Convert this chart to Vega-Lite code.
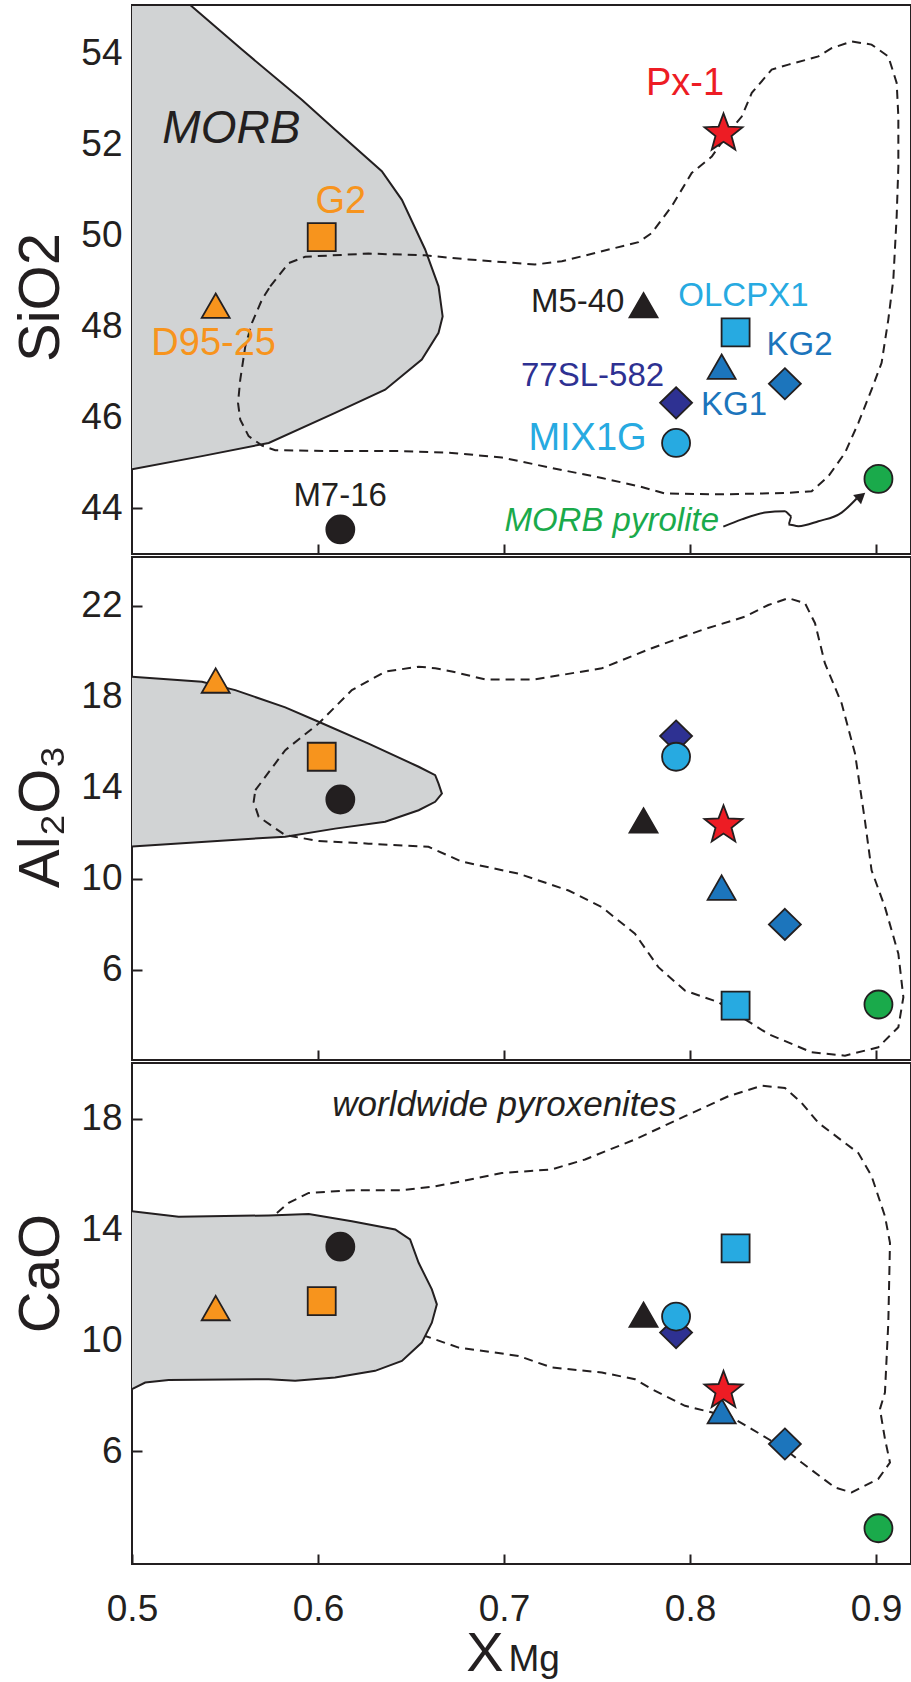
{
  "$schema": "https://vega.github.io/schema/vega-lite/v6.json",
  "background": "white",
  "padding": {"left": 11, "top": 4, "right": 0, "bottom": 0},
  "spacing": 0,
  "config": {
    "view": {"stroke": "#231f20", "strokeWidth": 2},
    "font": "Liberation Sans",
    "axis": {
      "labelFont": "Liberation Sans", "labelFontSize": 37, "labelColor": "#231f20",
      "labelFlush": false, "labelOverlap": false,
      "tickColor": "#231f20", "tickWidth": 2, "domain": false, "grid": false,
      "titleFont": "Liberation Sans",
      "titleFontSize": 58, "titleFontWeight": "normal", "titleColor": "#231f20",
      "titleBaseline": "alphabetic", "titlePadding": 22
    }
  },
  "datasets": {
    "points": [
      {"panel": "SiO2", "sample": "77SL-582", "x": 0.7925, "y": 46.32},
      {"panel": "SiO2", "sample": "KG2", "x": 0.851, "y": 46.74},
      {"panel": "SiO2", "sample": "KG1", "x": 0.817, "y": 47.11},
      {"panel": "SiO2", "sample": "D95-25", "x": 0.545, "y": 48.45},
      {"panel": "SiO2", "sample": "M5-40", "x": 0.775, "y": 48.46},
      {"panel": "SiO2", "sample": "G2", "x": 0.602, "y": 49.96},
      {"panel": "SiO2", "sample": "OLCPX1", "x": 0.8245, "y": 47.87},
      {"panel": "SiO2", "sample": "M7-16", "x": 0.612, "y": 43.54},
      {"panel": "SiO2", "sample": "MIX1G", "x": 0.7925, "y": 45.44},
      {"panel": "SiO2", "sample": "MORB pyrolite", "x": 0.9013, "y": 44.65},
      {"panel": "SiO2", "sample": "Px-1", "x": 0.818, "y": 52.24},
      {"panel": "Al2O3", "sample": "77SL-582", "x": 0.7925, "y": 16.28},
      {"panel": "Al2O3", "sample": "KG2", "x": 0.851, "y": 8.0},
      {"panel": "Al2O3", "sample": "KG1", "x": 0.817, "y": 9.61},
      {"panel": "Al2O3", "sample": "D95-25", "x": 0.545, "y": 18.71},
      {"panel": "Al2O3", "sample": "M5-40", "x": 0.775, "y": 12.56},
      {"panel": "Al2O3", "sample": "G2", "x": 0.602, "y": 15.37},
      {"panel": "Al2O3", "sample": "OLCPX1", "x": 0.8245, "y": 4.43},
      {"panel": "Al2O3", "sample": "M7-16", "x": 0.612, "y": 13.49},
      {"panel": "Al2O3", "sample": "MIX1G", "x": 0.7925, "y": 15.37},
      {"panel": "Al2O3", "sample": "MORB pyrolite", "x": 0.9013, "y": 4.48},
      {"panel": "Al2O3", "sample": "Px-1", "x": 0.818, "y": 12.36},
      {"panel": "CaO", "sample": "77SL-582", "x": 0.7925, "y": 10.29},
      {"panel": "CaO", "sample": "KG2", "x": 0.851, "y": 6.27},
      {"panel": "CaO", "sample": "KG1", "x": 0.817, "y": 7.45},
      {"panel": "CaO", "sample": "D95-25", "x": 0.545, "y": 11.17},
      {"panel": "CaO", "sample": "M5-40", "x": 0.775, "y": 10.93},
      {"panel": "CaO", "sample": "G2", "x": 0.602, "y": 11.43},
      {"panel": "CaO", "sample": "OLCPX1", "x": 0.8245, "y": 13.33},
      {"panel": "CaO", "sample": "M7-16", "x": 0.612, "y": 13.39},
      {"panel": "CaO", "sample": "MIX1G", "x": 0.7925, "y": 10.87},
      {"panel": "CaO", "sample": "MORB pyrolite", "x": 0.9013, "y": 3.23},
      {"panel": "CaO", "sample": "Px-1", "x": 0.818, "y": 8.19}
    ],
    "labels": [
      {"panel": "SiO2", "sample": "Px-1", "x": 0.7973, "y": 53.09},
      {"panel": "SiO2", "sample": "G2", "x": 0.6123, "y": 50.49},
      {"panel": "SiO2", "sample": "D95-25", "x": 0.5439, "y": 47.38},
      {"panel": "SiO2", "sample": "MIX1G", "x": 0.7449, "y": 45.28},
      {"panel": "SiO2", "sample": "M7-16", "x": 0.6119, "y": 44.05},
      {"panel": "SiO2", "sample": "M5-40", "x": 0.7396, "y": 48.32},
      {"panel": "SiO2", "sample": "OLCPX1", "x": 0.8287, "y": 48.44},
      {"panel": "SiO2", "sample": "KG2", "x": 0.8589, "y": 47.38},
      {"panel": "SiO2", "sample": "77SL-582", "x": 0.7476, "y": 46.70},
      {"panel": "SiO2", "sample": "KG1", "x": 0.8237, "y": 46.06},
      {"panel": "SiO2", "sample": "MORB pyrolite", "x": 0.7579, "y": 43.50},
      {"panel": "SiO2", "sample": "MORB", "x": 0.5534, "y": 52.03},
      {"panel": "CaO", "sample": "worldwide pyroxenites", "x": 0.7002, "y": 18.10},
      {"panel": "CaO", "sample": "X", "x": 0.6898, "y": -1.93},
      {"panel": "CaO", "sample": "Mg", "x": 0.7024, "y": -1.93}
    ],
    "outlines": [
      {"panel": "SiO2", "kind": "MORB", "i": 0, "x": 0.5, "y": 55.06},
      {"panel": "SiO2", "kind": "MORB", "i": 1, "x": 0.5313, "y": 55.06},
      {"panel": "SiO2", "kind": "MORB", "i": 2, "x": 0.5591, "y": 54.08},
      {"panel": "SiO2", "kind": "MORB", "i": 3, "x": 0.5913, "y": 52.98},
      {"panel": "SiO2", "kind": "MORB", "i": 4, "x": 0.6092, "y": 52.32},
      {"panel": "SiO2", "kind": "MORB", "i": 5, "x": 0.6343, "y": 51.41},
      {"panel": "SiO2", "kind": "MORB", "i": 6, "x": 0.6451, "y": 50.78},
      {"panel": "SiO2", "kind": "MORB", "i": 7, "x": 0.6576, "y": 49.69},
      {"panel": "SiO2", "kind": "MORB", "i": 8, "x": 0.6648, "y": 48.88},
      {"panel": "SiO2", "kind": "MORB", "i": 9, "x": 0.6670, "y": 48.22},
      {"panel": "SiO2", "kind": "MORB", "i": 10, "x": 0.6648, "y": 47.86},
      {"panel": "SiO2", "kind": "MORB", "i": 11, "x": 0.6558, "y": 47.27},
      {"panel": "SiO2", "kind": "MORB", "i": 12, "x": 0.6361, "y": 46.61},
      {"panel": "SiO2", "kind": "MORB", "i": 13, "x": 0.6092, "y": 46.10},
      {"panel": "SiO2", "kind": "MORB", "i": 14, "x": 0.5735, "y": 45.44},
      {"panel": "SiO2", "kind": "MORB", "i": 15, "x": 0.5376, "y": 45.15},
      {"panel": "SiO2", "kind": "MORB", "i": 16, "x": 0.5, "y": 44.86},
      {"panel": "SiO2", "kind": "pyx", "i": 0, "x": 0.5743, "y": 48.88},
      {"panel": "SiO2", "kind": "pyx", "i": 1, "x": 0.5842, "y": 49.39},
      {"panel": "SiO2", "kind": "pyx", "i": 2, "x": 0.5931, "y": 49.53},
      {"panel": "SiO2", "kind": "pyx", "i": 3, "x": 0.6272, "y": 49.60},
      {"panel": "SiO2", "kind": "pyx", "i": 4, "x": 0.6576, "y": 49.56},
      {"panel": "SiO2", "kind": "pyx", "i": 5, "x": 0.6809, "y": 49.47},
      {"panel": "SiO2", "kind": "pyx", "i": 6, "x": 0.7167, "y": 49.36},
      {"panel": "SiO2", "kind": "pyx", "i": 7, "x": 0.7311, "y": 49.43},
      {"panel": "SiO2", "kind": "pyx", "i": 8, "x": 0.7526, "y": 49.65},
      {"panel": "SiO2", "kind": "pyx", "i": 9, "x": 0.7723, "y": 49.85},
      {"panel": "SiO2", "kind": "pyx", "i": 10, "x": 0.7794, "y": 50.05},
      {"panel": "SiO2", "kind": "pyx", "i": 11, "x": 0.7902, "y": 50.64},
      {"panel": "SiO2", "kind": "pyx", "i": 12, "x": 0.8009, "y": 51.37},
      {"panel": "SiO2", "kind": "pyx", "i": 13, "x": 0.8117, "y": 51.73},
      {"panel": "SiO2", "kind": "pyx", "i": 14, "x": 0.8206, "y": 52.25},
      {"panel": "SiO2", "kind": "pyx", "i": 15, "x": 0.8278, "y": 52.61},
      {"panel": "SiO2", "kind": "pyx", "i": 16, "x": 0.8332, "y": 53.13},
      {"panel": "SiO2", "kind": "pyx", "i": 17, "x": 0.8439, "y": 53.64},
      {"panel": "SiO2", "kind": "pyx", "i": 18, "x": 0.8529, "y": 53.75},
      {"panel": "SiO2", "kind": "pyx", "i": 19, "x": 0.8690, "y": 53.93},
      {"panel": "SiO2", "kind": "pyx", "i": 20, "x": 0.8761, "y": 54.11},
      {"panel": "SiO2", "kind": "pyx", "i": 21, "x": 0.8869, "y": 54.26},
      {"panel": "SiO2", "kind": "pyx", "i": 22, "x": 0.8976, "y": 54.19},
      {"panel": "SiO2", "kind": "pyx", "i": 23, "x": 0.9066, "y": 53.93},
      {"panel": "SiO2", "kind": "pyx", "i": 24, "x": 0.9111, "y": 53.35},
      {"panel": "SiO2", "kind": "pyx", "i": 25, "x": 0.9120, "y": 52.61},
      {"panel": "SiO2", "kind": "pyx", "i": 26, "x": 0.9120, "y": 51.51},
      {"panel": "SiO2", "kind": "pyx", "i": 27, "x": 0.9111, "y": 50.42},
      {"panel": "SiO2", "kind": "pyx", "i": 28, "x": 0.9093, "y": 49.03},
      {"panel": "SiO2", "kind": "pyx", "i": 29, "x": 0.9066, "y": 48.15},
      {"panel": "SiO2", "kind": "pyx", "i": 30, "x": 0.9030, "y": 47.20},
      {"panel": "SiO2", "kind": "pyx", "i": 31, "x": 0.8976, "y": 46.61},
      {"panel": "SiO2", "kind": "pyx", "i": 32, "x": 0.8905, "y": 45.88},
      {"panel": "SiO2", "kind": "pyx", "i": 33, "x": 0.8833, "y": 45.22},
      {"panel": "SiO2", "kind": "pyx", "i": 34, "x": 0.8744, "y": 44.71},
      {"panel": "SiO2", "kind": "pyx", "i": 35, "x": 0.8654, "y": 44.38},
      {"panel": "SiO2", "kind": "pyx", "i": 36, "x": 0.8510, "y": 44.34},
      {"panel": "SiO2", "kind": "pyx", "i": 37, "x": 0.8153, "y": 44.31},
      {"panel": "SiO2", "kind": "pyx", "i": 38, "x": 0.7866, "y": 44.33},
      {"panel": "SiO2", "kind": "pyx", "i": 39, "x": 0.7723, "y": 44.49},
      {"panel": "SiO2", "kind": "pyx", "i": 40, "x": 0.7526, "y": 44.67},
      {"panel": "SiO2", "kind": "pyx", "i": 41, "x": 0.7257, "y": 44.89},
      {"panel": "SiO2", "kind": "pyx", "i": 42, "x": 0.6988, "y": 45.12},
      {"panel": "SiO2", "kind": "pyx", "i": 43, "x": 0.6720, "y": 45.22},
      {"panel": "SiO2", "kind": "pyx", "i": 44, "x": 0.6451, "y": 45.26},
      {"panel": "SiO2", "kind": "pyx", "i": 45, "x": 0.6092, "y": 45.26},
      {"panel": "SiO2", "kind": "pyx", "i": 46, "x": 0.5770, "y": 45.28},
      {"panel": "SiO2", "kind": "pyx", "i": 47, "x": 0.5699, "y": 45.38},
      {"panel": "SiO2", "kind": "pyx", "i": 48, "x": 0.5627, "y": 45.59},
      {"panel": "SiO2", "kind": "pyx", "i": 49, "x": 0.5582, "y": 45.95},
      {"panel": "SiO2", "kind": "pyx", "i": 50, "x": 0.5570, "y": 46.32},
      {"panel": "SiO2", "kind": "pyx", "i": 51, "x": 0.5582, "y": 46.83},
      {"panel": "SiO2", "kind": "pyx", "i": 52, "x": 0.5609, "y": 47.56},
      {"panel": "SiO2", "kind": "pyx", "i": 53, "x": 0.5645, "y": 48.08},
      {"panel": "SiO2", "kind": "pyx", "i": 54, "x": 0.5699, "y": 48.59},
      {"panel": "SiO2", "kind": "pyx", "i": 55, "x": 0.5743, "y": 48.88},
      {"panel": "SiO2", "kind": "arrow", "i": 0, "x": 0.8179, "y": 43.60},
      {"panel": "SiO2", "kind": "arrow", "i": 1, "x": 0.8278, "y": 43.76},
      {"panel": "SiO2", "kind": "arrow", "i": 2, "x": 0.8403, "y": 43.91},
      {"panel": "SiO2", "kind": "arrow", "i": 3, "x": 0.8510, "y": 43.94},
      {"panel": "SiO2", "kind": "arrow", "i": 4, "x": 0.8546, "y": 43.83},
      {"panel": "SiO2", "kind": "arrow", "i": 5, "x": 0.8529, "y": 43.65},
      {"panel": "SiO2", "kind": "arrow", "i": 6, "x": 0.8583, "y": 43.61},
      {"panel": "SiO2", "kind": "arrow", "i": 7, "x": 0.8690, "y": 43.72},
      {"panel": "SiO2", "kind": "arrow", "i": 8, "x": 0.8815, "y": 43.91},
      {"panel": "SiO2", "kind": "arrow", "i": 9, "x": 0.8896, "y": 44.22},
      {"panel": "SiO2", "kind": "head", "i": 0, "x": 0.8920, "y": 44.27},
      {"panel": "Al2O3", "kind": "MORB", "i": 0, "x": 0.5, "y": 18.89},
      {"panel": "Al2O3", "kind": "MORB", "i": 1, "x": 0.5376, "y": 18.67},
      {"panel": "Al2O3", "kind": "MORB", "i": 2, "x": 0.5555, "y": 18.30},
      {"panel": "Al2O3", "kind": "MORB", "i": 3, "x": 0.5824, "y": 17.54},
      {"panel": "Al2O3", "kind": "MORB", "i": 4, "x": 0.6003, "y": 16.91},
      {"panel": "Al2O3", "kind": "MORB", "i": 5, "x": 0.6272, "y": 15.95},
      {"panel": "Al2O3", "kind": "MORB", "i": 6, "x": 0.6541, "y": 14.93},
      {"panel": "Al2O3", "kind": "MORB", "i": 7, "x": 0.6630, "y": 14.56},
      {"panel": "Al2O3", "kind": "MORB", "i": 8, "x": 0.6648, "y": 14.19},
      {"panel": "Al2O3", "kind": "MORB", "i": 9, "x": 0.6666, "y": 13.75},
      {"panel": "Al2O3", "kind": "MORB", "i": 10, "x": 0.6630, "y": 13.39},
      {"panel": "Al2O3", "kind": "MORB", "i": 11, "x": 0.6541, "y": 13.02},
      {"panel": "Al2O3", "kind": "MORB", "i": 12, "x": 0.6361, "y": 12.51},
      {"panel": "Al2O3", "kind": "MORB", "i": 13, "x": 0.6092, "y": 12.21},
      {"panel": "Al2O3", "kind": "MORB", "i": 14, "x": 0.5824, "y": 11.85},
      {"panel": "Al2O3", "kind": "MORB", "i": 15, "x": 0.5645, "y": 11.77},
      {"panel": "Al2O3", "kind": "MORB", "i": 16, "x": 0.5, "y": 11.43},
      {"panel": "Al2O3", "kind": "pyx", "i": 0, "x": 0.5663, "y": 13.90},
      {"panel": "Al2O3", "kind": "pyx", "i": 1, "x": 0.5824, "y": 15.66},
      {"panel": "Al2O3", "kind": "pyx", "i": 2, "x": 0.6003, "y": 16.83},
      {"panel": "Al2O3", "kind": "pyx", "i": 3, "x": 0.6182, "y": 18.30},
      {"panel": "Al2O3", "kind": "pyx", "i": 4, "x": 0.6361, "y": 19.11},
      {"panel": "Al2O3", "kind": "pyx", "i": 5, "x": 0.6541, "y": 19.33},
      {"panel": "Al2O3", "kind": "pyx", "i": 6, "x": 0.6630, "y": 19.26},
      {"panel": "Al2O3", "kind": "pyx", "i": 7, "x": 0.6720, "y": 19.12},
      {"panel": "Al2O3", "kind": "pyx", "i": 8, "x": 0.6898, "y": 18.77},
      {"panel": "Al2O3", "kind": "pyx", "i": 9, "x": 0.7167, "y": 18.77},
      {"panel": "Al2O3", "kind": "pyx", "i": 10, "x": 0.7526, "y": 19.26},
      {"panel": "Al2O3", "kind": "pyx", "i": 11, "x": 0.7794, "y": 20.14},
      {"panel": "Al2O3", "kind": "pyx", "i": 12, "x": 0.8063, "y": 20.94},
      {"panel": "Al2O3", "kind": "pyx", "i": 13, "x": 0.8296, "y": 21.53},
      {"panel": "Al2O3", "kind": "pyx", "i": 14, "x": 0.8421, "y": 22.04},
      {"panel": "Al2O3", "kind": "pyx", "i": 15, "x": 0.8529, "y": 22.34},
      {"panel": "Al2O3", "kind": "pyx", "i": 16, "x": 0.8618, "y": 22.12},
      {"panel": "Al2O3", "kind": "pyx", "i": 17, "x": 0.8672, "y": 21.24},
      {"panel": "Al2O3", "kind": "pyx", "i": 18, "x": 0.8725, "y": 19.48},
      {"panel": "Al2O3", "kind": "pyx", "i": 19, "x": 0.8815, "y": 17.72},
      {"panel": "Al2O3", "kind": "pyx", "i": 20, "x": 0.8887, "y": 15.51},
      {"panel": "Al2O3", "kind": "pyx", "i": 21, "x": 0.8940, "y": 12.58},
      {"panel": "Al2O3", "kind": "pyx", "i": 22, "x": 0.8976, "y": 10.38},
      {"panel": "Al2O3", "kind": "pyx", "i": 23, "x": 0.9048, "y": 8.76},
      {"panel": "Al2O3", "kind": "pyx", "i": 24, "x": 0.9120, "y": 6.71},
      {"panel": "Al2O3", "kind": "pyx", "i": 25, "x": 0.9147, "y": 4.80},
      {"panel": "Al2O3", "kind": "pyx", "i": 26, "x": 0.9120, "y": 3.48},
      {"panel": "Al2O3", "kind": "pyx", "i": 27, "x": 0.9012, "y": 2.60},
      {"panel": "Al2O3", "kind": "pyx", "i": 28, "x": 0.8833, "y": 2.23},
      {"panel": "Al2O3", "kind": "pyx", "i": 29, "x": 0.8654, "y": 2.38},
      {"panel": "Al2O3", "kind": "pyx", "i": 30, "x": 0.8421, "y": 3.18},
      {"panel": "Al2O3", "kind": "pyx", "i": 31, "x": 0.8278, "y": 3.92},
      {"panel": "Al2O3", "kind": "pyx", "i": 32, "x": 0.8153, "y": 4.58},
      {"panel": "Al2O3", "kind": "pyx", "i": 33, "x": 0.7973, "y": 5.09},
      {"panel": "Al2O3", "kind": "pyx", "i": 34, "x": 0.7830, "y": 6.12},
      {"panel": "Al2O3", "kind": "pyx", "i": 35, "x": 0.7704, "y": 7.59},
      {"panel": "Al2O3", "kind": "pyx", "i": 36, "x": 0.7526, "y": 8.76},
      {"panel": "Al2O3", "kind": "pyx", "i": 37, "x": 0.7347, "y": 9.49},
      {"panel": "Al2O3", "kind": "pyx", "i": 38, "x": 0.7078, "y": 10.23},
      {"panel": "Al2O3", "kind": "pyx", "i": 39, "x": 0.6773, "y": 10.76},
      {"panel": "Al2O3", "kind": "pyx", "i": 40, "x": 0.6594, "y": 11.41},
      {"panel": "Al2O3", "kind": "pyx", "i": 41, "x": 0.6272, "y": 11.55},
      {"panel": "Al2O3", "kind": "pyx", "i": 42, "x": 0.6003, "y": 11.67},
      {"panel": "Al2O3", "kind": "pyx", "i": 43, "x": 0.5824, "y": 11.92},
      {"panel": "Al2O3", "kind": "pyx", "i": 44, "x": 0.5681, "y": 12.73},
      {"panel": "Al2O3", "kind": "pyx", "i": 45, "x": 0.5654, "y": 13.39},
      {"panel": "Al2O3", "kind": "pyx", "i": 46, "x": 0.5663, "y": 13.90},
      {"panel": "CaO", "kind": "MORB", "i": 0, "x": 0.5, "y": 14.67},
      {"panel": "CaO", "kind": "MORB", "i": 1, "x": 0.5251, "y": 14.47},
      {"panel": "CaO", "kind": "MORB", "i": 2, "x": 0.5735, "y": 14.52},
      {"panel": "CaO", "kind": "MORB", "i": 3, "x": 0.5950, "y": 14.57},
      {"panel": "CaO", "kind": "MORB", "i": 4, "x": 0.6182, "y": 14.31},
      {"panel": "CaO", "kind": "MORB", "i": 5, "x": 0.6415, "y": 14.01},
      {"panel": "CaO", "kind": "MORB", "i": 6, "x": 0.6495, "y": 13.65},
      {"panel": "CaO", "kind": "MORB", "i": 7, "x": 0.6541, "y": 12.81},
      {"panel": "CaO", "kind": "MORB", "i": 8, "x": 0.6612, "y": 11.85},
      {"panel": "CaO", "kind": "MORB", "i": 9, "x": 0.6639, "y": 11.31},
      {"panel": "CaO", "kind": "MORB", "i": 10, "x": 0.6612, "y": 10.65},
      {"panel": "CaO", "kind": "MORB", "i": 11, "x": 0.6558, "y": 9.93},
      {"panel": "CaO", "kind": "MORB", "i": 12, "x": 0.6451, "y": 9.27},
      {"panel": "CaO", "kind": "MORB", "i": 13, "x": 0.6307, "y": 8.91},
      {"panel": "CaO", "kind": "MORB", "i": 14, "x": 0.6092, "y": 8.67},
      {"panel": "CaO", "kind": "MORB", "i": 15, "x": 0.5877, "y": 8.55},
      {"panel": "CaO", "kind": "MORB", "i": 16, "x": 0.5735, "y": 8.61},
      {"panel": "CaO", "kind": "MORB", "i": 17, "x": 0.5197, "y": 8.58},
      {"panel": "CaO", "kind": "MORB", "i": 18, "x": 0.5071, "y": 8.49},
      {"panel": "CaO", "kind": "MORB", "i": 19, "x": 0.5, "y": 8.25},
      {"panel": "CaO", "kind": "pyx", "i": 0, "x": 0.5779, "y": 14.61},
      {"panel": "CaO", "kind": "pyx", "i": 1, "x": 0.5842, "y": 14.97},
      {"panel": "CaO", "kind": "pyx", "i": 2, "x": 0.5950, "y": 15.33},
      {"panel": "CaO", "kind": "pyx", "i": 3, "x": 0.6182, "y": 15.43},
      {"panel": "CaO", "kind": "pyx", "i": 4, "x": 0.6451, "y": 15.43},
      {"panel": "CaO", "kind": "pyx", "i": 5, "x": 0.6630, "y": 15.57},
      {"panel": "CaO", "kind": "pyx", "i": 6, "x": 0.6746, "y": 15.72},
      {"panel": "CaO", "kind": "pyx", "i": 7, "x": 0.6988, "y": 16.05},
      {"panel": "CaO", "kind": "pyx", "i": 8, "x": 0.7257, "y": 16.18},
      {"panel": "CaO", "kind": "pyx", "i": 9, "x": 0.7436, "y": 16.54},
      {"panel": "CaO", "kind": "pyx", "i": 10, "x": 0.7704, "y": 17.26},
      {"panel": "CaO", "kind": "pyx", "i": 11, "x": 0.7973, "y": 18.10},
      {"panel": "CaO", "kind": "pyx", "i": 12, "x": 0.8206, "y": 18.82},
      {"panel": "CaO", "kind": "pyx", "i": 13, "x": 0.8385, "y": 19.20},
      {"panel": "CaO", "kind": "pyx", "i": 14, "x": 0.8510, "y": 19.12},
      {"panel": "CaO", "kind": "pyx", "i": 15, "x": 0.8600, "y": 18.58},
      {"panel": "CaO", "kind": "pyx", "i": 16, "x": 0.8690, "y": 17.86},
      {"panel": "CaO", "kind": "pyx", "i": 17, "x": 0.8905, "y": 16.77},
      {"panel": "CaO", "kind": "pyx", "i": 18, "x": 0.8976, "y": 15.94},
      {"panel": "CaO", "kind": "pyx", "i": 19, "x": 0.9048, "y": 14.49},
      {"panel": "CaO", "kind": "pyx", "i": 20, "x": 0.9075, "y": 13.53},
      {"panel": "CaO", "kind": "pyx", "i": 21, "x": 0.9066, "y": 10.65},
      {"panel": "CaO", "kind": "pyx", "i": 22, "x": 0.9048, "y": 8.13},
      {"panel": "CaO", "kind": "pyx", "i": 23, "x": 0.9021, "y": 7.53},
      {"panel": "CaO", "kind": "pyx", "i": 24, "x": 0.9048, "y": 6.45},
      {"panel": "CaO", "kind": "pyx", "i": 25, "x": 0.9075, "y": 5.60},
      {"panel": "CaO", "kind": "pyx", "i": 26, "x": 0.9012, "y": 5.01},
      {"panel": "CaO", "kind": "pyx", "i": 27, "x": 0.8869, "y": 4.52},
      {"panel": "CaO", "kind": "pyx", "i": 28, "x": 0.8779, "y": 4.70},
      {"panel": "CaO", "kind": "pyx", "i": 29, "x": 0.8600, "y": 5.60},
      {"panel": "CaO", "kind": "pyx", "i": 30, "x": 0.8510, "y": 6.09},
      {"panel": "CaO", "kind": "pyx", "i": 31, "x": 0.8332, "y": 6.81},
      {"panel": "CaO", "kind": "pyx", "i": 32, "x": 0.8224, "y": 7.23},
      {"panel": "CaO", "kind": "pyx", "i": 33, "x": 0.7973, "y": 7.65},
      {"panel": "CaO", "kind": "pyx", "i": 34, "x": 0.7794, "y": 8.25},
      {"panel": "CaO", "kind": "pyx", "i": 35, "x": 0.7704, "y": 8.61},
      {"panel": "CaO", "kind": "pyx", "i": 36, "x": 0.7526, "y": 8.85},
      {"panel": "CaO", "kind": "pyx", "i": 37, "x": 0.7257, "y": 9.03},
      {"panel": "CaO", "kind": "pyx", "i": 38, "x": 0.7078, "y": 9.45},
      {"panel": "CaO", "kind": "pyx", "i": 39, "x": 0.6756, "y": 9.75},
      {"panel": "CaO", "kind": "pyx", "i": 40, "x": 0.6576, "y": 10.17}
    ]
  },
  "vconcat": [
    {
      "width": 779, "height": 549,
      "encoding": {
        "x": {"field": "x", "type": "quantitative", "scale": {"domain": [0.5, 0.9188], "nice": false, "zero": false},
              "axis": {"values": [0.6, 0.7, 0.8, 0.9], "labels": false, "tickSize": -10, "title": null}},
        "y": {"field": "y", "type": "quantitative", "scale": {"domain": [43.0, 55.06], "nice": false, "zero": false},
              "axis": {"values": [44, 46, 48, 50, 52, 54], "tickSize": -10, "labelPadding": 20, "title": "SiO2", "titleY": 292}}
      },
      "layer": [
        {"data": {"name": "outlines"}, "transform": [{"filter": {"field": "panel", "equal": "SiO2"}}, {"filter": {"field": "kind", "equal": "MORB"}}],
         "mark": {"type": "line", "fill": "#d1d3d4", "stroke": "#231f20", "strokeWidth": 2, "clip": true},
         "encoding": {"order": {"field": "i", "type": "quantitative"}}},
        {"data": {"name": "outlines"}, "transform": [{"filter": {"field": "panel", "equal": "SiO2"}}, {"filter": {"field": "kind", "equal": "pyx"}}],
         "mark": {"type": "line", "stroke": "#231f20", "strokeWidth": 2, "strokeDash": [9, 6]},
         "encoding": {"order": {"field": "i", "type": "quantitative"}}},
        {"data": {"name": "outlines"}, "transform": [{"filter": {"field": "panel", "equal": "SiO2"}}, {"filter": {"field": "kind", "equal": "arrow"}}],
         "mark": {"type": "line", "stroke": "#231f20", "strokeWidth": 2, "interpolate": "monotone"},
         "encoding": {"order": {"field": "i", "type": "quantitative"}}},
        {"data": {"name": "outlines"}, "transform": [{"filter": {"field": "panel", "equal": "SiO2"}}, {"filter": {"field": "kind", "equal": "head"}}],
         "mark": {"type": "point", "shape": "triangle-up", "angle": 50, "size": 150, "filled": true, "opacity": 1, "color": "#231f20"}},
        {"data": {"name": "points"}, "transform": [{"filter": {"field": "panel", "equal": "SiO2"}}],
         "mark": {"type": "point", "filled": true, "opacity": 1, "size": 1600, "stroke": "#231f20", "strokeWidth": 1.8},
         "encoding": {
           "shape": {"field": "sample", "type": "nominal", "legend": null, "scale": {
             "domain": ["77SL-582", "KG2", "KG1", "D95-25", "M5-40", "G2", "OLCPX1", "M7-16", "MIX1G", "MORB pyrolite", "Px-1"],
             "range": ["M0,-0.78L0.8,0L0,0.78L-0.8,0Z", "M0,-0.78L0.8,0L0,0.78L-0.8,0Z", "M0,-0.62L0.7,0.6L-0.7,0.6Z", "M0,-0.62L0.7,0.6L-0.7,0.6Z", "M0,-0.62L0.7,0.6L-0.7,0.6Z", "M-0.7,-0.7L0.7,-0.7L0.7,0.7L-0.7,0.7Z", "M-0.7,-0.7L0.7,-0.7L0.7,0.7L-0.7,0.7Z", "M-0.7,0A0.7,0.7,0,1,1,0.7,0A0.7,0.7,0,1,1,-0.7,0Z", "M-0.7,0A0.7,0.7,0,1,1,0.7,0A0.7,0.7,0,1,1,-0.7,0Z", "M-0.7,0A0.7,0.7,0,1,1,0.7,0A0.7,0.7,0,1,1,-0.7,0Z", "M0,-1L0.247,-0.34L0.951,-0.309L0.4,0.13L0.588,0.809L0,0.42L-0.588,0.809L-0.4,0.13L-0.951,-0.309L-0.247,-0.34Z"]}},
           "color": {"field": "sample", "type": "nominal", "legend": null, "scale": {
             "domain": ["77SL-582", "KG2", "KG1", "D95-25", "M5-40", "G2", "OLCPX1", "M7-16", "MIX1G", "MORB pyrolite", "Px-1", "MORB", "worldwide pyroxenites"],
             "range": ["#2e3192", "#1c75bc", "#1c75bc", "#f7941d", "#231f20", "#f7941d", "#27aae1", "#231f20", "#27aae1", "#1aaa4b", "#ed1c24", "#231f20", "#231f20"]}}
         }},
        {"data": {"name": "labels"}, "transform": [{"filter": {"field": "panel", "equal": "SiO2"}}, {"filter": {"field": "sample", "oneOf": ["Px-1", "G2", "D95-25", "MIX1G"]}}],
         "mark": {"type": "text", "fontSize": 38, "align": "center", "baseline": "alphabetic", "font": "Liberation Sans"},
         "encoding": {"text": {"field": "sample", "type": "nominal"},
           "color": {"field": "sample", "type": "nominal", "legend": null, "scale": {
             "domain": ["77SL-582", "KG2", "KG1", "D95-25", "M5-40", "G2", "OLCPX1", "M7-16", "MIX1G", "MORB pyrolite", "Px-1", "MORB", "worldwide pyroxenites"],
             "range": ["#2e3192", "#1c75bc", "#1c75bc", "#f7941d", "#231f20", "#f7941d", "#27aae1", "#231f20", "#27aae1", "#1aaa4b", "#ed1c24", "#231f20", "#231f20"]}}}},
        {"data": {"name": "labels"}, "transform": [{"filter": {"field": "panel", "equal": "SiO2"}}, {"filter": {"field": "sample", "oneOf": ["M7-16", "M5-40", "OLCPX1", "KG2", "77SL-582", "KG1"]}}],
         "mark": {"type": "text", "fontSize": 33, "align": "center", "baseline": "alphabetic", "font": "Liberation Sans"},
         "encoding": {"text": {"field": "sample", "type": "nominal"},
           "color": {"field": "sample", "type": "nominal", "legend": null, "scale": {
             "domain": ["77SL-582", "KG2", "KG1", "D95-25", "M5-40", "G2", "OLCPX1", "M7-16", "MIX1G", "MORB pyrolite", "Px-1", "MORB", "worldwide pyroxenites"],
             "range": ["#2e3192", "#1c75bc", "#1c75bc", "#f7941d", "#231f20", "#f7941d", "#27aae1", "#231f20", "#27aae1", "#1aaa4b", "#ed1c24", "#231f20", "#231f20"]}}}},
        {"data": {"name": "labels"}, "transform": [{"filter": {"field": "panel", "equal": "SiO2"}}, {"filter": {"field": "sample", "equal": "MORB pyrolite"}}],
         "mark": {"type": "text", "fontSize": 33, "fontStyle": "italic", "align": "center", "baseline": "alphabetic", "font": "Liberation Sans"},
         "encoding": {"text": {"field": "sample", "type": "nominal"},
           "color": {"field": "sample", "type": "nominal", "legend": null, "scale": {
             "domain": ["77SL-582", "KG2", "KG1", "D95-25", "M5-40", "G2", "OLCPX1", "M7-16", "MIX1G", "MORB pyrolite", "Px-1", "MORB", "worldwide pyroxenites"],
             "range": ["#2e3192", "#1c75bc", "#1c75bc", "#f7941d", "#231f20", "#f7941d", "#27aae1", "#231f20", "#27aae1", "#1aaa4b", "#ed1c24", "#231f20", "#231f20"]}}}},
        {"data": {"name": "labels"}, "transform": [{"filter": {"field": "panel", "equal": "SiO2"}}, {"filter": {"field": "sample", "equal": "MORB"}}],
         "mark": {"type": "text", "fontSize": 46, "fontStyle": "italic", "align": "center", "baseline": "alphabetic", "font": "Liberation Sans", "color": "#231f20"},
         "encoding": {"text": {"field": "sample", "type": "nominal"}}}
      ]
    },
    {
      "width": 779, "height": 503,
      "encoding": {
        "x": {"field": "x", "type": "quantitative", "scale": {"domain": [0.5, 0.9188], "nice": false, "zero": false},
              "axis": {"values": [0.6, 0.7, 0.8, 0.9], "labels": false, "tickSize": -10, "title": null}},
        "y": {"field": "y", "type": "quantitative", "scale": {"domain": [2.04, 24.15], "nice": false, "zero": false},
              "axis": {"values": [6, 10, 14, 18, 22], "tickSize": -10, "labelPadding": 20, "title": "Al₂O₃", "titleY": 259}}
      },
      "layer": [
        {"data": {"name": "outlines"}, "transform": [{"filter": {"field": "panel", "equal": "Al2O3"}}, {"filter": {"field": "kind", "equal": "MORB"}}],
         "mark": {"type": "line", "fill": "#d1d3d4", "stroke": "#231f20", "strokeWidth": 2, "clip": true},
         "encoding": {"order": {"field": "i", "type": "quantitative"}}},
        {"data": {"name": "outlines"}, "transform": [{"filter": {"field": "panel", "equal": "Al2O3"}}, {"filter": {"field": "kind", "equal": "pyx"}}],
         "mark": {"type": "line", "stroke": "#231f20", "strokeWidth": 2, "strokeDash": [9, 6]},
         "encoding": {"order": {"field": "i", "type": "quantitative"}}},
        {"data": {"name": "points"}, "transform": [{"filter": {"field": "panel", "equal": "Al2O3"}}],
         "mark": {"type": "point", "filled": true, "opacity": 1, "size": 1600, "stroke": "#231f20", "strokeWidth": 1.8},
         "encoding": {
           "shape": {"field": "sample", "type": "nominal", "legend": null, "scale": {
             "domain": ["77SL-582", "KG2", "KG1", "D95-25", "M5-40", "G2", "OLCPX1", "M7-16", "MIX1G", "MORB pyrolite", "Px-1"],
             "range": ["M0,-0.78L0.8,0L0,0.78L-0.8,0Z", "M0,-0.78L0.8,0L0,0.78L-0.8,0Z", "M0,-0.62L0.7,0.6L-0.7,0.6Z", "M0,-0.62L0.7,0.6L-0.7,0.6Z", "M0,-0.62L0.7,0.6L-0.7,0.6Z", "M-0.7,-0.7L0.7,-0.7L0.7,0.7L-0.7,0.7Z", "M-0.7,-0.7L0.7,-0.7L0.7,0.7L-0.7,0.7Z", "M-0.7,0A0.7,0.7,0,1,1,0.7,0A0.7,0.7,0,1,1,-0.7,0Z", "M-0.7,0A0.7,0.7,0,1,1,0.7,0A0.7,0.7,0,1,1,-0.7,0Z", "M-0.7,0A0.7,0.7,0,1,1,0.7,0A0.7,0.7,0,1,1,-0.7,0Z", "M0,-1L0.247,-0.34L0.951,-0.309L0.4,0.13L0.588,0.809L0,0.42L-0.588,0.809L-0.4,0.13L-0.951,-0.309L-0.247,-0.34Z"]}},
           "color": {"field": "sample", "type": "nominal", "legend": null, "scale": {
             "domain": ["77SL-582", "KG2", "KG1", "D95-25", "M5-40", "G2", "OLCPX1", "M7-16", "MIX1G", "MORB pyrolite", "Px-1", "MORB", "worldwide pyroxenites"],
             "range": ["#2e3192", "#1c75bc", "#1c75bc", "#f7941d", "#231f20", "#f7941d", "#27aae1", "#231f20", "#27aae1", "#1aaa4b", "#ed1c24", "#231f20", "#231f20"]}}
         }}
      ]
    },
    {
      "width": 779, "height": 501,
      "encoding": {
        "x": {"field": "x", "type": "quantitative", "scale": {"domain": [0.5, 0.9188], "nice": false, "zero": false},
              "axis": {"values": [0.5, 0.6, 0.7, 0.8, 0.9], "format": ".1f", "tickSize": -10, "labelPadding": 37, "title": null}},
        "y": {"field": "y", "type": "quantitative", "scale": {"domain": [1.94, 20.02], "nice": false, "zero": false},
              "axis": {"values": [6, 10, 14, 18], "tickSize": -10, "labelPadding": 20, "title": "CaO", "titleY": 210}}
      },
      "layer": [
        {"data": {"name": "outlines"}, "transform": [{"filter": {"field": "panel", "equal": "CaO"}}, {"filter": {"field": "kind", "equal": "MORB"}}],
         "mark": {"type": "line", "fill": "#d1d3d4", "stroke": "#231f20", "strokeWidth": 2, "clip": true},
         "encoding": {"order": {"field": "i", "type": "quantitative"}}},
        {"data": {"name": "outlines"}, "transform": [{"filter": {"field": "panel", "equal": "CaO"}}, {"filter": {"field": "kind", "equal": "pyx"}}],
         "mark": {"type": "line", "stroke": "#231f20", "strokeWidth": 2, "strokeDash": [9, 6]},
         "encoding": {"order": {"field": "i", "type": "quantitative"}}},
        {"data": {"name": "points"}, "transform": [{"filter": {"field": "panel", "equal": "CaO"}}],
         "mark": {"type": "point", "filled": true, "opacity": 1, "size": 1600, "stroke": "#231f20", "strokeWidth": 1.8},
         "encoding": {
           "shape": {"field": "sample", "type": "nominal", "legend": null, "scale": {
             "domain": ["77SL-582", "KG2", "KG1", "D95-25", "M5-40", "G2", "OLCPX1", "M7-16", "MIX1G", "MORB pyrolite", "Px-1"],
             "range": ["M0,-0.78L0.8,0L0,0.78L-0.8,0Z", "M0,-0.78L0.8,0L0,0.78L-0.8,0Z", "M0,-0.62L0.7,0.6L-0.7,0.6Z", "M0,-0.62L0.7,0.6L-0.7,0.6Z", "M0,-0.62L0.7,0.6L-0.7,0.6Z", "M-0.7,-0.7L0.7,-0.7L0.7,0.7L-0.7,0.7Z", "M-0.7,-0.7L0.7,-0.7L0.7,0.7L-0.7,0.7Z", "M-0.7,0A0.7,0.7,0,1,1,0.7,0A0.7,0.7,0,1,1,-0.7,0Z", "M-0.7,0A0.7,0.7,0,1,1,0.7,0A0.7,0.7,0,1,1,-0.7,0Z", "M-0.7,0A0.7,0.7,0,1,1,0.7,0A0.7,0.7,0,1,1,-0.7,0Z", "M0,-1L0.247,-0.34L0.951,-0.309L0.4,0.13L0.588,0.809L0,0.42L-0.588,0.809L-0.4,0.13L-0.951,-0.309L-0.247,-0.34Z"]}},
           "color": {"field": "sample", "type": "nominal", "legend": null, "scale": {
             "domain": ["77SL-582", "KG2", "KG1", "D95-25", "M5-40", "G2", "OLCPX1", "M7-16", "MIX1G", "MORB pyrolite", "Px-1", "MORB", "worldwide pyroxenites"],
             "range": ["#2e3192", "#1c75bc", "#1c75bc", "#f7941d", "#231f20", "#f7941d", "#27aae1", "#231f20", "#27aae1", "#1aaa4b", "#ed1c24", "#231f20", "#231f20"]}}
         }},
        {"data": {"name": "labels"}, "transform": [{"filter": {"field": "panel", "equal": "CaO"}}, {"filter": {"field": "sample", "equal": "worldwide pyroxenites"}}],
         "mark": {"type": "text", "fontSize": 35, "fontStyle": "italic", "align": "center", "baseline": "alphabetic", "font": "Liberation Sans", "color": "#231f20"},
         "encoding": {"text": {"field": "sample", "type": "nominal"}}},
        {"data": {"name": "labels"}, "transform": [{"filter": {"field": "panel", "equal": "CaO"}}, {"filter": {"field": "sample", "equal": "X"}}],
         "mark": {"type": "text", "fontSize": 56, "align": "center", "baseline": "alphabetic", "font": "Liberation Sans", "color": "#231f20"},
         "encoding": {"text": {"field": "sample", "type": "nominal"}}},
        {"data": {"name": "labels"}, "transform": [{"filter": {"field": "panel", "equal": "CaO"}}, {"filter": {"field": "sample", "equal": "Mg"}}],
         "mark": {"type": "text", "fontSize": 37, "align": "left", "baseline": "alphabetic", "font": "Liberation Sans", "color": "#231f20"},
         "encoding": {"text": {"field": "sample", "type": "nominal"}}}
      ]
    }
  ]
}
